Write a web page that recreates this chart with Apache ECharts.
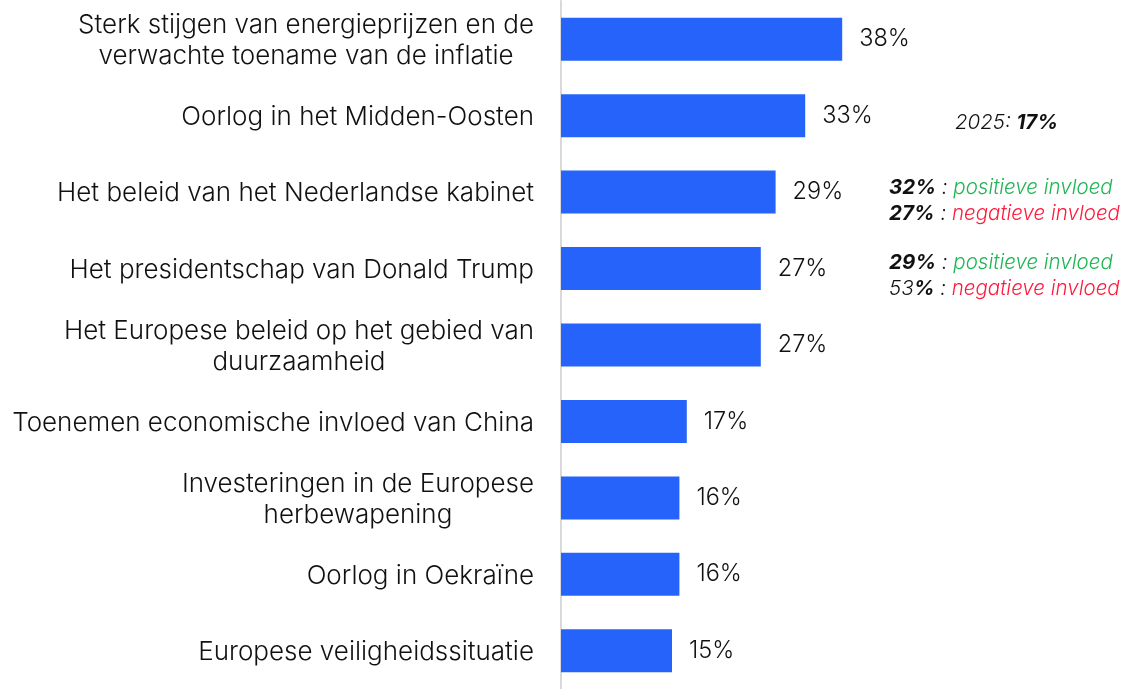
<!DOCTYPE html>
<html>
<head>
<meta charset="utf-8">
<script src="https://cdn.jsdelivr.net/npm/echarts@6/dist/echarts.min.js"></script>
<style>html,body{margin:0;padding:0;background:#fff}#c{width:1129px;height:689px}</style>
</head>
<body>
<div id="c"></div>
<script>
const categories = [
  "Sterk stijgen van energieprijzen en de\nverwachte toename van de inflatie",
  "Oorlog in het Midden-Oosten",
  "Het beleid van het Nederlandse kabinet",
  "Het presidentschap van Donald Trump",
  "Het Europese beleid op het gebied van\nduurzaamheid",
  "Toenemen economische invloed van China",
  "Investeringen in de Europese\nherbewapening",
  "Oorlog in Oekraïne",
  "Europese veiligheidssituatie"
];
const values = [38, 33, 29, 27, 27, 17, 16, 16, 15];

const FONT = 'Inter, "Noto Sans", sans-serif';
const AS = 20.5;
const chart = echarts.init(document.getElementById('c'));
const base = { fontStyle: 'italic', fontSize: AS, lineHeight: 26, fontFamily: FONT };
const annRich = {
  b: Object.assign({}, base, { fontWeight: 'bold', fill: '#111' }),
  i: Object.assign({}, base, { fontWeight: 300, fill: '#111' }),
  g: Object.assign({}, base, { fontWeight: 300, fill: '#1fb554' }),
  r: Object.assign({}, base, { fontWeight: 300, fill: '#ff1a3c' })
};
chart.setOption({
  animation: false,
  grid: { left: 561, top: 1, width: 370, height: 693 },
  xAxis: { type: 'value', min: 0, max: 50, show: false },
  yAxis: {
    type: 'category', data: categories, inverse: true,
    axisLine: { show: true, lineStyle: { color: '#d9d9d9', width: 2 } },
    axisTick: { show: false },
    axisLabel: {
      margin: 27, align: 'right',
      formatter: v => v.split('\n').map(s => '{c|' + s + '}').join('\n'),
      rich: { c: { align: 'center', fontSize: 26, fontWeight: 300, lineHeight: 31, color: '#111', fontFamily: FONT, padding: [3, 0, 0, 0] } }
    }
  },
  series: [{
    type: 'bar', data: values, barWidth: 43,
    itemStyle: { color: '#2563FA' },
    label: { show: true, position: 'right', distance: 17, formatter: '{c}%', fontSize: 23.5, fontWeight: 300, color: '#111', fontFamily: FONT, padding: [9, 0, 0, 0] }
  }],
  graphic: [
    { type: 'text', left: 955, top: 113, style: { text: '{i|2025: }{b|17%}', rich: annRich } },
    { type: 'text', left: 889, top: 178, style: { text: '{b|32%}{i| : }{g|positieve invloed}\n{b|27%}{i| : }{r|negatieve invloed}', rich: annRich } },
    { type: 'text', left: 889, top: 253, style: { text: '{b|29%}{i| : }{g|positieve invloed}\n{i|53}{b|%}{i| : }{r|negatieve invloed}', rich: annRich } }
  ]
});
</script>
</body>
</html>
